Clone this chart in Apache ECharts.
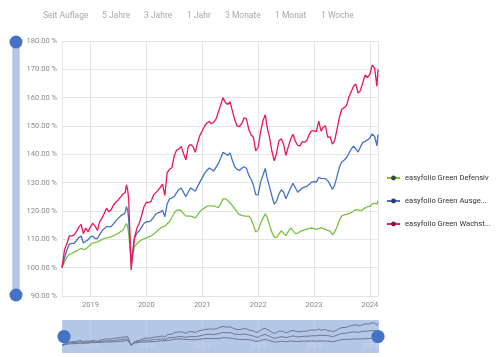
<!DOCTYPE html>
<html>
<head>
<meta charset="utf-8">
<script src="https://cdn.jsdelivr.net/npm/echarts@6/dist/echarts.min.js"></script>
<style>
html,body{margin:0;padding:0;background:#fff;}
#c{width:500px;height:357px;}
</style>
</head>
<body>
<div id="c"></div>
<script>
// ---- data ----
var seriesNames = ['easyfolio Green Defensiv', 'easyfolio Green Ausgewogen', 'easyfolio Green Wachstum'];
var rangeButtons = ['Seit Auflage', '5 Jahre', '3 Jahre', '1 Jahr', '3 Monate', '1 Monat', '1 Woche'];

var dates2018 = ['2018-06-29','2018-07-16','2018-08-01','2018-08-16','2018-09-01','2018-09-16','2018-10-01','2018-10-16','2018-11-01','2018-11-16','2018-12-01','2018-12-16'];
var dates2019 = ['2019-01-01','2019-01-16','2019-02-01','2019-02-16','2019-03-01','2019-03-16','2019-04-01','2019-04-16','2019-05-01','2019-05-16','2019-06-01','2019-06-16','2019-07-01','2019-07-16','2019-08-01','2019-08-16','2019-08-24','2019-09-01','2019-09-08','2019-09-24','2019-10-01','2019-10-16','2019-11-01','2019-11-16','2019-12-01','2019-12-16'];
var dates2020 = ['2020-01-01','2020-01-16','2020-02-01','2020-02-16','2020-03-01','2020-03-16','2020-04-01','2020-04-16','2020-05-01','2020-05-16','2020-06-01','2020-06-16','2020-07-01','2020-07-16','2020-08-01','2020-08-16','2020-09-01','2020-09-16','2020-10-01','2020-10-16','2020-11-01','2020-11-16','2020-12-01','2020-12-16'];
var dates2021 = ['2021-01-01','2021-01-16','2021-02-01','2021-02-16','2021-03-01','2021-03-16','2021-04-01','2021-04-16','2021-05-01','2021-05-16','2021-06-01','2021-06-16','2021-07-01','2021-07-16','2021-08-01','2021-08-16','2021-09-01','2021-09-16','2021-10-01','2021-10-16','2021-11-01','2021-11-16','2021-12-01','2021-12-16'];
var dates2022 = ['2022-01-01','2022-01-16','2022-02-01','2022-02-16','2022-03-01','2022-03-16','2022-04-01','2022-04-16','2022-05-01','2022-05-16','2022-06-01','2022-06-16','2022-07-01','2022-07-16','2022-08-01','2022-08-16','2022-09-01','2022-09-16','2022-10-01','2022-10-16','2022-11-01','2022-11-16','2022-12-01','2022-12-16'];
var dates2023 = ['2023-01-01','2023-01-16','2023-02-01','2023-02-16','2023-03-01','2023-03-16','2023-04-01','2023-04-16','2023-05-01','2023-05-16','2023-06-01','2023-06-16','2023-07-01','2023-07-16','2023-08-01','2023-08-16','2023-09-01','2023-09-16','2023-10-01','2023-10-16','2023-11-01','2023-11-16','2023-12-01','2023-12-16'];
var dates2024 = ['2024-01-01','2024-01-16','2024-02-01','2024-02-16','2024-02-23'];

var defensiv = [
  100,102.1,103.8,104.7,105.1,105.5,105.9,106.4,106.8,106.4,106.6,107.3,
  108.2,108.7,108.9,109.1,109.5,109.9,110.3,110.5,110.7,110.9,111.3,111.7,112.1,112.7,113.2,114.7,115.6,114.6,112,102.1,104,107.4,108.5,109.2,109.8,110.2,
  110.5,110.9,111.2,111.8,112.3,113.1,113.9,114.4,114.7,115.5,116.3,117.7,119.3,120.2,120.4,120.1,119,118.2,118.2,118.2,117.9,117.6,118.6,119.8,
  120.5,121.1,121.7,121.8,121.8,121.8,121.5,121.2,122.6,124.3,124.3,123.7,122.9,121.9,120.8,119.6,118.7,118.5,118.2,118.2,118.2,117.1,115,112.6,
  113.2,115.6,117.4,119,117.7,115,112.5,110.7,110.7,111.8,113,112.2,111.3,112.7,114,113.1,112,112.2,112.7,113.1,113.3,113.6,113.9,114,
  113.8,113.5,113.8,114.1,113.8,113.5,113.2,112.9,111.6,112.6,114.5,116.8,118.3,118.6,118.8,119.1,119.4,120,120.5,120.4,120.1,120.5,121.1,121.5,
  121.7,122.4,122.8,122.4,123.6
];
var ausgewogen = [
  100,103.6,106.3,108.3,108.6,108.6,109.5,110.6,111.2,108.7,109.3,109.8,
  110.9,111.1,110.3,110.3,111.6,112.9,113.7,114.5,114.5,114.5,115.5,116.5,117.4,118.2,118.8,119.5,121.5,120.4,117,101.5,104.6,110.5,112.2,113,114.2,115.6,
  116.2,116.2,116.6,117.7,118.8,119.3,119.6,120.3,118,122.5,124.3,124.6,125.1,126.4,127.6,128.1,126.5,125.1,126.7,128.2,127.6,127,128.6,130.2,
  131.8,133.3,134.4,135.2,134.6,134.1,135.5,136.8,138.7,140.7,140.2,139.6,140.5,137.9,135.6,134.7,134.3,135.1,135.6,135.1,132.6,131.2,129.1,125.8,
  125.7,130.1,132.6,135,131.5,128.5,125.2,122.4,123.5,125.9,127.5,126.6,124.3,126.2,128.1,129.8,128.2,126.6,127.3,128.1,128.5,128.7,129.4,130.2,
  130.4,130.2,131.9,131.5,130.8,131.4,130.7,129.3,127.6,129.2,132.4,135.5,137.3,137.9,138.8,140.3,141.9,142.9,141.9,140.8,142.7,144.2,144.6,145.1,
  145.8,147.2,146.3,143,147
];
var wachstum = [
  100,106.4,108.7,111.2,111.2,111.6,112.7,114.3,115.3,112,114,112.7,
  114.3,115.7,114.6,113.1,116.1,117.4,119.1,121,119.7,120.4,122.2,123.1,123.9,124.9,126,126.5,129.2,127.5,124,99.2,102.9,110.8,114,115.7,118.4,121.4,
  123,123,123.4,125.5,126.4,127.2,128.3,129.5,125.5,133.5,134.7,135.3,139.4,141.4,141.9,142.8,140.1,138,142.8,143.5,142.8,140.7,144.1,146.7,
  148.3,150,151.1,151.6,150.8,151.3,152.5,155,157.4,160,158.3,157.6,158.6,155.4,152.2,150,149.8,150.9,152.9,152.5,148.7,146.8,146,141.2,
  142.5,147.7,151.8,154,149.5,146,141,137.7,140.4,144.7,145.5,143.5,139.6,142.5,145.3,147.1,144.6,143.2,143,144.5,144.3,145,147.1,148.3,
  148.3,148,151.7,148.2,149.5,150.1,146,146.2,143.6,144.8,149.1,153.1,155.9,156.4,157.2,160.1,162.1,164,164.8,161.6,162.6,165.4,168,167.1,
  168.3,171.5,170.4,164,170
];

// ---- build ----
var dates = [].concat(dates2018, dates2019, dates2020, dates2021, dates2022, dates2023, dates2024);
function pairs(vals) { return vals.map(function (v, i) { return [dates[i], v]; }); }
var lineColors = ['#7cc143', '#4472c4', '#e8175d'];
var legendDots = ['#3d4a33', '#2d3c5e', '#6a2340'];
var allVals = [defensiv, ausgewogen, wachstum];
var font = 'Roboto';

var series = [];
allVals.forEach(function (vals, i) {
  series.push({
    name: seriesNames[i], type: 'line', xAxisIndex: 0, yAxisIndex: 0,
    data: pairs(vals), showSymbol: false, symbol: 'circle', symbolSize: 5,
    lineStyle: { color: lineColors[i], width: 1.3 },
    itemStyle: { color: legendDots[i] },
    z: 3 + i, animation: false
  });
});
allVals.forEach(function (vals, i) {
  series.push({
    name: seriesNames[i] + ' (mini)', type: 'line', xAxisIndex: 1, yAxisIndex: 1,
    data: pairs(vals), showSymbol: false, silent: true,
    lineStyle: { color: '#6b7691', width: 1 }, animation: false
  });
});

var graphics = [];
var btnX = [43, 102, 144, 187, 225, 275, 321];
rangeButtons.forEach(function (t, i) {
  graphics.push({ type: 'text', left: btnX[i], top: 11, silent: true,
    style: { text: t, fill: '#a9a9a9', font: '8.5px ' + font } });
});

var chart = echarts.init(document.getElementById('c'), null, { renderer: 'canvas' });
chart.setOption({
  animation: false,
  backgroundColor: '#ffffff',
  textStyle: { fontFamily: font },
  graphic: graphics,
  legend: {
    data: seriesNames, orient: 'vertical', left: 381, top: 169, padding: 5,
    itemWidth: 13, itemHeight: 6, itemGap: 15,
    textStyle: { fontSize: 7.6, color: '#333', fontFamily: font, width: 89, overflow: 'truncate', ellipsis: '...' }
  },
  grid: [
    { left: 62, right: 122, top: 41, bottom: 61 },
    { left: 62, right: 122, top: 320, height: 33, show: true, backgroundColor: '#b4c7e7', borderWidth: 0 }
  ],
  xAxis: [
    { type: 'time', gridIndex: 0, min: '2018-06-29', max: '2024-02-23',
      minInterval: 365 * 24 * 3600 * 1000, maxInterval: 366 * 24 * 3600 * 1000,
      axisLine: { show: true, lineStyle: { color: '#e2e2e2' } },
      axisTick: { show: false },
      splitLine: { show: true, lineStyle: { color: '#e6e6e6', width: 1 } },
      axisLabel: { color: '#8a8a8a', fontSize: 7.5, margin: 5, fontFamily: font,
        formatter: function (v) { return String(new Date(v).getFullYear()); } } },
    { type: 'time', gridIndex: 1, min: '2018-06-29', max: '2024-02-23',
      minInterval: 365 * 24 * 3600 * 1000, maxInterval: 366 * 24 * 3600 * 1000,
      axisLine: { show: false }, axisTick: { show: false },
      splitLine: { show: true, lineStyle: { color: '#bccce9', width: 1 } },
      axisLabel: { inside: true, color: '#c9d5ee', fontSize: 7.5, margin: 3, fontFamily: font,
        formatter: function (v) { return String(new Date(v).getFullYear()); } } }
  ],
  yAxis: [
    { type: 'value', gridIndex: 0, min: 90, max: 180, interval: 10,
      axisLine: { show: false }, axisTick: { show: false },
      splitLine: { lineStyle: { color: '#e6e6e6', width: 1 } },
      axisLabel: { color: '#8a8a8a', fontSize: 7.5, margin: 5, fontFamily: font,
        formatter: function (v) { return v.toFixed(2) + ' %'; } } },
    { type: 'value', gridIndex: 1, min: 76, max: 180, show: false }
  ],
  dataZoom: [
    { type: 'slider', xAxisIndex: 0, filterMode: 'none', start: 0, end: 100,
      left: 62, right: 122, top: 320, height: 33,
      showDetail: false, showDataShadow: false, brushSelect: false,
      backgroundColor: 'rgba(0,0,0,0)', borderColor: 'rgba(0,0,0,0)',
      fillerColor: 'rgba(0,0,0,0)',
      handleIcon: 'circle', handleSize: '40%',
      handleStyle: { color: '#4472c4', borderColor: '#4472c4', borderWidth: 0 },
      moveHandleSize: 0, moveHandleStyle: { opacity: 0 },
      emphasis: { handleStyle: { color: '#4472c4', borderColor: '#4472c4' } } },
    { type: 'slider', yAxisIndex: 0, filterMode: 'none', start: 0, end: 100, orient: 'vertical',
      left: 12.5, width: 7, top: 41, height: 255,
      showDetail: false, showDataShadow: false, brushSelect: false,
      backgroundColor: '#b4c7e7', borderColor: 'rgba(0,0,0,0)',
      fillerColor: '#b4c7e7',
      handleIcon: 'circle', handleSize: '185%',
      handleStyle: { color: '#4472c4', borderColor: '#4472c4', borderWidth: 0 },
      moveHandleSize: 0, moveHandleStyle: { opacity: 0 },
      emphasis: { handleStyle: { color: '#4472c4', borderColor: '#4472c4' } } }
  ],
  series: series
});
</script>
</body>
</html>
